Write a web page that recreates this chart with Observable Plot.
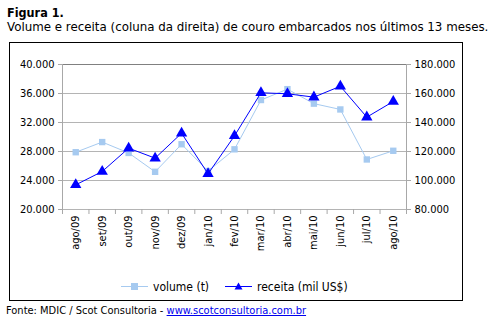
<!DOCTYPE html>
<html>
<head>
<meta charset="utf-8">
<script src="https://cdn.jsdelivr.net/npm/d3@7"></script>
<script src="https://cdn.jsdelivr.net/npm/@observablehq/plot@0.6"></script>
<style>
  body { margin:0; background:#fff; font-family:"DejaVu Sans Condensed","DejaVu Sans",sans-serif; font-stretch:condensed; color:#000; }
  .t1 { position:absolute; left:7px; top:5px; font-weight:bold; font-size:12.5px; }
  .t2 { position:absolute; left:7px; top:20px; font-size:11.85px; white-space:nowrap; font-family:"DejaVu Sans",sans-serif; font-stretch:normal; }
  #box { position:absolute; left:9px; top:42px; width:452px; height:257px; border:1px solid #000; background:#fff; }
  #legend { position:absolute; left:0; top:233px; width:452px; height:22px; font-size:12px; }
  .li { position:absolute; top:3px; display:flex; align-items:center; white-space:nowrap; }
  .src { position:absolute; left:6px; top:304px; font-size:11px; white-space:nowrap; }
  .src a { color:#0000ee; text-decoration:underline; }
</style>
</head>
<body>
<div class="t1">Figura 1.</div>
<div class="t2">Volume e receita (coluna da direita) de couro embarcados nos últimos 13 meses.</div>
<div id="box"><div id="chart"></div><div id="legend"></div></div>
<div class="src">Fonte: MDIC / Scot Consultoria - <a>www.scotconsultoria.com.br</a></div>
<script>
const months = ["ago/09","set/09","out/09","nov/09","dez/09","jan/10","fev/10","mar/10","abr/10","mai/10","jun/10","jul/10","ago/10"];
const volume = [27900, 29300, 27800, 25200, 29000, 25300, 28300, 35100, 36600, 34600, 33800, 26900, 28100];
const receita = [97000, 106200, 122300, 115400, 132600, 104600, 130800, 160500, 159800, 157500, 165000, 143700, 154500];
const leftTicks = [20000, 24000, 28000, 32000, 36000, 40000];
const rightTicks = [80000, 100000, 120000, 140000, 160000, 180000];
const seriesNames = ["volume (t)", "receita (mil US$)"];

const volColor = "#a6caf0";
const recColor = "#0000ff";
const fmt = d3.formatLocale({decimal: ",", thousands: ".", grouping: [3], currency: ["", ""]}).format(",.0f");
// map right-axis values onto left scale
const toLeft = r => 20000 + (r - 80000) / 5;

const volData = volume.map((v, i) => ({i, v}));
const recData = receita.map((r, i) => ({i, r: toLeft(r)}));

const chart = Plot.plot({
  width: 452, height: 232,
  marginLeft: 52, marginRight: 56, marginTop: 21, marginBottom: 66,
  x: {domain: [-0.5, 12.5]},
  y: {domain: [20000, 40000]},
  style: {fontFamily: '"DejaVu Sans Condensed","DejaVu Sans",sans-serif', fontSize: "11px", color: "#000", background: "#fff", overflow: "visible"},
  marks: [
    Plot.gridY(leftTicks, {stroke: "#b4b4b4", strokeOpacity: 1}),
    Plot.ruleY([40000], {stroke: "#808080"}),
    Plot.ruleX([-0.5, 12.5], {stroke: "#a8a8a8"}),
    Plot.axisY({ticks: leftTicks, tickFormat: fmt, tickSize: 4, tickPadding: 4, anchor: "left", stroke: "#a8a8a8", fill: "#000", label: null}),
    Plot.axisY({ticks: rightTicks.map(toLeft), tickFormat: v => fmt(80000 + (v - 20000) * 5), tickSize: 4, tickPadding: 4, anchor: "right", stroke: "#a8a8a8", fill: "#000", label: null}),
    Plot.axisX({ticks: d3.range(14).map(i => i - 0.5), tickFormat: () => "", tickSize: 5, anchor: "bottom", stroke: "#a8a8a8", label: null}),
    Plot.axisX({ticks: d3.range(13), tickFormat: i => months[i], tickSize: 0, tickPadding: 6, tickRotate: -90, anchor: "bottom", fill: "#000", label: null}),
    Plot.line(volData, {x: "i", y: "v", stroke: volColor, strokeWidth: 1}),
    Plot.dot(volData, {x: "i", y: "v", symbol: "square", fill: volColor, r: 3.6}),
    Plot.line(recData, {x: "i", y: "r", stroke: recColor, strokeWidth: 1}),
    Plot.dot(recData, {x: "i", y: "r", symbol: "triangle", fill: recColor, r: 4.2})
  ]
});
document.getElementById("chart").appendChild(chart);

// legend
const legend = document.getElementById("legend");
const items = [
  {name: seriesNames[0], color: volColor, shape: "square", left: 111},
  {name: seriesNames[1], color: recColor, shape: "triangle", left: 215}
];
for (const it of items) {
  const d = document.createElement("div");
  d.className = "li";
  d.style.left = it.left + "px";
  const marker = it.shape === "square"
    ? `<rect x="10" y="4" width="7" height="7" fill="${it.color}"/>`
    : `<path d="M13.5,3.5 L17.5,10.5 L9.5,10.5 Z" fill="${it.color}"/>`;
  d.innerHTML = `<svg width="28" height="15" style="margin-right:4px"><line x1="0" x2="27" y1="7.5" y2="7.5" stroke="${it.color}" stroke-width="1"/>${marker}</svg><span>${it.name}</span>`;
  legend.appendChild(d);
}
</script>
</body>
</html>
